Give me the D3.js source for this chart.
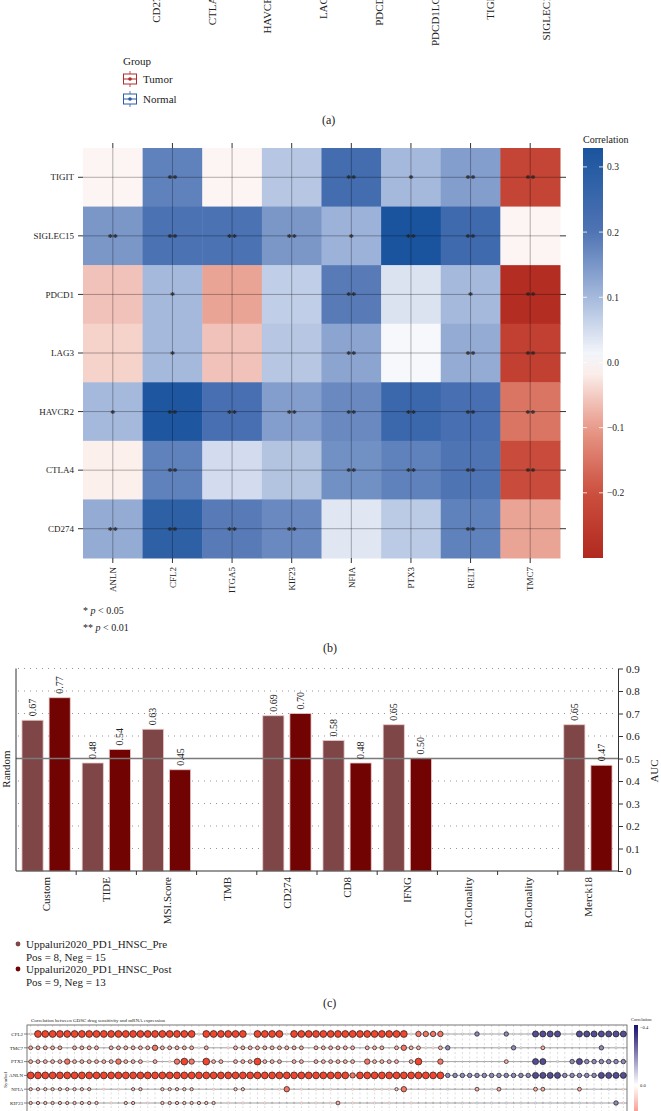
<!DOCTYPE html>
<html><head><meta charset="utf-8">
<script src="https://cdn.jsdelivr.net/npm/d3@7"></script>
<style>
body{margin:0;background:#fff}
svg{display:block}
text{font-family:"Liberation Serif","Times New Roman",serif;fill:#222}
</style>
</head><body>
<svg id="c" width="661" height="1111"></svg>
<script>
// ---------------- Panel (a) remnants ----------------
const aGenes = ["CD274","CTLA4","HAVCR2","LAG3","PDCD1","PDCD1LG2","TIGIT","SIGLEC15"];
const aGroups = ["Tumor","Normal"];
const aGroupColors = ["#b22a2a","#2b5ba8"];

// ---------------- Panel (b) heatmap ----------------
const hmRows = ["TIGIT","SIGLEC15","PDCD1","LAG3","HAVCR2","CTLA4","CD274"];
const hmCols = ["ANLN","CFL2","ITGA5","KIF23","NFIA","PTX3","RELT","TMC7"];
const hmTIGIT    = [-0.01, 0.18, -0.01, 0.08, 0.23, 0.10, 0.14, -0.23];
const hmSIGLEC15 = [ 0.15, 0.21,  0.21, 0.15, 0.11, 0.33, 0.24, -0.01];
const hmPDCD1    = [-0.06, 0.10, -0.09, 0.07, 0.19, 0.04, 0.10, -0.29];
const hmLAG3     = [-0.045,0.10, -0.06, 0.08, 0.13, 0.01, 0.12, -0.24];
const hmHAVCR2   = [ 0.10, 0.32,  0.22, 0.14, 0.17, 0.25, 0.22, -0.15];
const hmCTLA4    = [-0.015,0.18,  0.05, 0.085,0.16, 0.18, 0.20, -0.21];
const hmCD274    = [ 0.12, 0.28,  0.19, 0.17, 0.035,0.075,0.18, -0.09];
const hmValues = [hmTIGIT, hmSIGLEC15, hmPDCD1, hmLAG3, hmHAVCR2, hmCTLA4, hmCD274];
const sigTIGIT    = ["", "**", "", "", "**", "*", "**", "**"];
const sigSIGLEC15 = ["**","**","**","**","*","**","**",""];
const sigPDCD1    = ["", "*", "", "", "**", "", "*", "**"];
const sigLAG3     = ["", "*", "", "", "**", "", "**", "**"];
const sigHAVCR2   = ["*","**","**","**","**","**","**","**"];
const sigCTLA4    = ["", "**", "", "", "**", "**", "**", "**"];
const sigCD274    = ["**","**","**","**","", "", "**", ""];
const hmSig = [sigTIGIT, sigSIGLEC15, sigPDCD1, sigLAG3, sigHAVCR2, sigCTLA4, sigCD274];
const hmTicks = [-0.2,-0.1,0,0.1,0.2,0.3];

// ---------------- Panel (c) bars ----------------
const cCats = ["Custom","TIDE","MSI.Score","TMB","CD274","CD8","IFNG","T.Clonality","B.Clonality","Merck18"];
const cPre  = [0.67, 0.48, 0.63, null, 0.69, 0.58, 0.65, null, null, 0.65];
const cPost = [0.77, 0.54, 0.45, null, 0.70, 0.48, 0.50, null, null, 0.47];
const cSeries = ["Uppaluri2020_PD1_HNSC_Pre","Uppaluri2020_PD1_HNSC_Post"];
const cSeriesNote = ["Pos = 8, Neg = 15","Pos = 9, Neg = 13"];
const cColors = ["#7e4646","#720303"];
const aucTicks = [0,0.1,0.2,0.3,0.4,0.5,0.6,0.7,0.8,0.9];

// ---------------- Panel (d) dot plot ----------------
const dRows = ["CFL2","TMC7","PTX3","ANLN","NFIA","KIF23"];
const dCFL2 = [.07,.35,.35,.35,.35,.35,.35,.35,.35,.35,
 .35,.35,.35,.35,.35,.35,.35,.35,.35,.35,
 .35,.35,.35,.07,.35,.35,.35,.35,.35,.35,
 .07,.35,.35,.35,.35,.07,.35,.35,.35,.35,
 .35,.35,.35,.35,.35,.35,.35,.35,.35,.35,
 .35,.35,.07,.26,.26,.26,.26,-.07,-.07,-.07,
 -.07,-.2,-.07,-.07,-.07,-.2,-.07,-.07,-.07,-.3,
 -.3,-.3,-.3,-.07,-.07,-.3,-.3,-.3,-.3,-.3,
 -.3,-.3];
const dTMC7 = [.16,.16,.16,.16,.16,.01,.16,.16,.16,.16,
 .01,.16,.16,.16,.16,.16,.16,.26,.16,.16,
 .16,.16,.16,.07,.16,.01,.01,.07,.16,.16,
 .16,.16,.16,.16,.16,.16,.16,.16,.01,.16,
 .16,.16,.16,.16,.16,.01,.16,.16,.16,.01,
 .16,.26,.16,.16,.07,.07,.16,-.2,.01,.01,
 .01,.01,.01,.01,-.07,.01,-.2,-.07,.01,.01,
 .16,.01,.01,.01,.01,.01,.01,.01,-.2,.01,
 -.07,.01];
const dPTX3 = [.16,.16,.16,.16,.16,.26,.16,.16,.16,.16,
 .16,.16,.26,.16,.16,.16,.07,.16,.01,.07,
 .26,.35,.26,.01,.35,.16,.16,.01,.16,.16,
 .16,.35,.16,.16,.16,.01,.16,.16,.01,.16,
 .16,.16,.16,.16,.16,.01,.26,.16,.16,.16,
 .16,.01,.16,.35,.01,.01,.26,.01,.01,.01,
 .01,.01,.01,.01,.01,.16,.01,.01,.01,-.3,
 -.3,.01,-.07,.01,-.2,-.3,-.2,-.2,-.2,-.2,
 -.2,-.2];
const dANLN = [.35,.35,.35,.35,.35,.35,.35,.35,.35,.35,
 .35,.35,.35,.35,.35,.35,.35,.35,.35,.35,
 .35,.35,.35,.35,.35,.35,.35,.35,.35,.35,
 .35,.35,.35,.35,.35,.35,.35,.35,.35,.35,
 .35,.35,.35,.35,.26,.35,.35,.35,.35,.35,
 .35,.35,.35,.35,.35,.35,.35,-.2,-.2,-.2,
 -.2,-.2,-.2,-.2,-.2,-.2,-.2,-.2,-.2,-.3,
 -.3,-.3,-.3,-.2,-.2,-.2,-.2,-.2,-.3,-.3,
 -.3,-.3];
const dNFIA = [.12,.12,.12,.12,.12,.12,.12,.12,.12,.01,
 .07,.01,.07,.01,.12,.12,.01,.01,.12,.12,
 .12,.12,.12,.01,.01,.07,.01,.01,.12,.12,
 .01,.01,.07,.01,.07,.26,.01,.07,.01,.07,
 .01,.07,.01,.01,.07,.01,.01,.07,.07,.07,
 .12,.26,.01,.01,.07,.01,.01,-.07,.01,.01,
 .01,.16,.01,-.07,.16,.01,.01,.01,.01,.16,
 .16,.01,.01,.01,.01,.16,.01,-.07,.01,-.07,
 .01,.07];
const dKIF23 = [.12,.12,.12,.12,.12,.12,.12,.12,.12,.12,
 .01,.07,.01,.12,.12,.01,.07,.01,.12,.12,
 .12,.12,.12,.12,.12,.12,.01,.07,.01,.07,
 .01,.01,.07,.01,.01,.01,.01,.07,.01,.07,
 .01,.07,.16,.01,.07,.01,.01,.07,.01,.07,
 .01,.01,.07,.01,.01,.01,.01,-.07,.01,-.07,
 .01,-.07,.01,-.07,.01,-.07,.01,-.07,.01,-.07,
 .01,-.07,.01,-.07,.01,-.07,.01,-.07,-.07,.01,
 -.2,.07];
const dValues = [dCFL2, dTMC7, dPTX3, dANLN, dNFIA, dKIF23];
const dTicks = [-0.4, 0.0];

const svg = d3.select("#c");
const defs = svg.append("defs");

// ================= Panel (a) =================
const xa = d3.scalePoint(aGenes, [156, 546]);
svg.append("g").selectAll("text").data(aGenes).join("text")
  .attr("transform", d => `translate(${xa(d)+4},-9) rotate(-90)`)
  .attr("text-anchor","end").attr("font-size",11).text(d => d);
svg.append("text").attr("x",123).attr("y",65).attr("font-size",11).text("Group");
aGroups.forEach((g,i) => {
  const cy = 79 + 20*i, col = aGroupColors[i];
  const gg = svg.append("g");
  gg.append("line").attr("x1",130).attr("x2",130).attr("y1",cy-8).attr("y2",cy+8).attr("stroke",col).attr("stroke-width",0.8);
  gg.append("rect").attr("x",123.5).attr("y",cy-5).attr("width",13).attr("height",10).attr("fill","#fff").attr("stroke",col).attr("stroke-width",1);
  gg.append("line").attr("x1",123.5).attr("x2",136.5).attr("y1",cy).attr("y2",cy).attr("stroke",col).attr("stroke-width",1);
  gg.append("circle").attr("cx",130).attr("cy",cy).attr("r",1.8).attr("fill",col);
  svg.append("text").attr("x",143).attr("y",cy+3.5).attr("font-size",11).text(g);
});
svg.append("text").attr("x",322).attr("y",124).attr("font-size",12).text("(a)");

// ================= Panel (b) =================
const xb = d3.scaleBand(hmCols, [83, 560]);
const yb = d3.scaleBand(hmRows, [148, 558]);
const colB = d3.scaleLinear()
  .domain([-0.3,-0.2,-0.1,0,0.1,0.2,0.33])
  .range(["#b0291f","#cc4f3e","#e89a8a","#ffffff","#a5b9dc","#4f74b4","#1a549e"])
  .clamp(true);
const cells = [];
hmRows.forEach((r,i) => hmCols.forEach((c,j) => cells.push({r, c, v: hmValues[i][j], s: hmSig[i][j]})));
svg.append("g").selectAll("rect").data(cells).join("rect")
  .attr("x", d => xb(d.c)).attr("y", d => yb(d.r))
  .attr("width", xb.bandwidth()+0.5).attr("height", yb.bandwidth()+0.5)
  .attr("fill", d => colB(d.v));
// grid lines through centres
const gl = svg.append("g");
hmCols.forEach(c => {
  const x = xb(c) + xb.bandwidth()/2;
  gl.append("line").attr("x1",x).attr("x2",x).attr("y1",148).attr("y2",558).attr("stroke","#000").attr("stroke-opacity",0.3).attr("stroke-width",1);
  gl.append("line").attr("x1",x).attr("x2",x).attr("y1",143).attr("y2",148).attr("stroke","#333").attr("stroke-width",1);
  gl.append("line").attr("x1",x).attr("x2",x).attr("y1",558).attr("y2",563).attr("stroke","#333").attr("stroke-width",1);
});
hmRows.forEach(r => {
  const y = yb(r) + yb.bandwidth()/2;
  gl.append("line").attr("x1",83).attr("x2",560).attr("y1",y).attr("y2",y).attr("stroke","#000").attr("stroke-opacity",0.3).attr("stroke-width",1);
  gl.append("line").attr("x1",78).attr("x2",83).attr("y1",y).attr("y2",y).attr("stroke","#333").attr("stroke-width",1);
  gl.append("line").attr("x1",560).attr("x2",566).attr("y1",y).attr("y2",y).attr("stroke","#333").attr("stroke-width",1);
});
svg.append("g").selectAll("text").data(cells.filter(d => d.s)).join("text")
  .attr("x", d => xb(d.c) + xb.bandwidth()/2)
  .attr("y", d => yb(d.r) + yb.bandwidth()/2 + 5)
  .attr("text-anchor","middle").attr("font-size",10).attr("font-weight","bold").attr("fill","#222")
  .text(d => d.s);
// row labels
svg.append("g").selectAll("text").data(hmRows).join("text")
  .attr("x",74).attr("y", d => yb(d) + yb.bandwidth()/2 + 3.2)
  .attr("text-anchor","end").attr("font-size",9).text(d => d);
// col labels
svg.append("g").selectAll("text").data(hmCols).join("text")
  .attr("transform", d => `translate(${xb(d)+xb.bandwidth()/2+3.2},567) rotate(-90)`)
  .attr("text-anchor","end").attr("font-size",9).text(d => d);
// colorbar
const cbY = d3.scaleLinear([-0.3, 0.329], [558, 148]);
const gradB = defs.append("linearGradient").attr("id","gradB").attr("x1",0).attr("x2",0).attr("y1",1).attr("y2",0);
d3.range(0, 1.0001, 0.05).forEach(t => {
  const v = -0.3 + t*(0.629);
  gradB.append("stop").attr("offset", t).attr("stop-color", colB(v));
});
svg.append("rect").attr("x",583).attr("y",148).attr("width",20).attr("height",410).attr("fill","url(#gradB)");
hmTicks.forEach(t => {
  const y = cbY(t);
  svg.append("line").attr("x1",583).attr("x2",587).attr("y1",y).attr("y2",y).attr("stroke","#fff").attr("stroke-width",0.8);
  svg.append("line").attr("x1",599).attr("x2",603).attr("y1",y).attr("y2",y).attr("stroke","#fff").attr("stroke-width",0.8);
  svg.append("text").attr("x",607).attr("y",y+3.5).attr("font-size",9.5).text(d3.format(".1f")(t));
});
svg.append("text").attr("x",583).attr("y",143).attr("font-size",10).text("Correlation");
const fn = svg.append("g").attr("font-size",10);
fn.append("text").attr("x",83).attr("y",614).html('* <tspan font-style="italic">p</tspan> &lt; 0.05');
fn.append("text").attr("x",83).attr("y",631).html('** <tspan font-style="italic">p</tspan> &lt; 0.01');
svg.append("text").attr("x",323).attr("y",652).attr("font-size",12).text("(b)");

// ================= Panel (c) =================
const yc = d3.scaleLinear([0, 0.9], [871, 668.5]);
const xc = d3.scaleBand(cCats, [16, 618]);
const xs = d3.scaleBand([0,1], [0, xc.bandwidth()]).paddingInner(0.22).paddingOuter(0.22);
const gc = svg.append("g");
aucTicks.filter(t => t > 0 && t !== 0.5).forEach(t => {
  gc.append("line").attr("x1",18).attr("x2",614).attr("y1",yc(t)).attr("y2",yc(t))
    .attr("stroke","#888").attr("stroke-width",0.9).attr("stroke-dasharray","1,5");
});
const barData = [];
cCats.forEach((c,i) => [cPre[i], cPost[i]].forEach((v,k) => { if (v != null) barData.push({c, k, v}); }));
gc.selectAll("rect.bar").data(barData).join("rect")
  .attr("x", d => xc(d.c) + xs(d.k)).attr("width", xs.bandwidth())
  .attr("y", d => yc(d.v)).attr("height", d => yc(0) - yc(d.v))
  .attr("fill", d => cColors[d.k]).attr("stroke","#ecc9c9").attr("stroke-width",0.8);
gc.append("line").attr("x1",16).attr("x2",618).attr("y1",yc(0.5)).attr("y2",yc(0.5)).attr("stroke","#7a7a7a").attr("stroke-width",1.6);
gc.selectAll("text.val").data(barData).join("text")
  .attr("transform", d => `translate(${xc(d.c)+xs(d.k)+xs.bandwidth()/2+3.5},${yc(d.v)-4}) rotate(-90)`)
  .attr("font-size",10).text(d => d3.format(".2f")(d.v));
// axes
gc.append("line").attr("x1",16).attr("x2",16).attr("y1",668.5).attr("y2",871).attr("stroke","#333").attr("stroke-width",1);
gc.append("line").attr("x1",16).attr("x2",618).attr("y1",871).attr("y2",871).attr("stroke","#333").attr("stroke-width",1);
cCats.slice(1).forEach(c => {
  gc.append("line").attr("x1",xc(c)).attr("x2",xc(c)).attr("y1",871).attr("y2",875).attr("stroke","#333");
});
gc.selectAll("text.cat").data(cCats).join("text")
  .attr("transform", d => `translate(${xc(d)+xc.bandwidth()/2+4},877) rotate(-90)`)
  .attr("text-anchor","end").attr("font-size",11).text(d => d);
const ra = svg.append("g").attr("transform","translate(618,0)")
  .call(d3.axisRight(yc).tickValues(aucTicks).tickSize(5).tickSizeOuter(0)
    .tickFormat(d => d === 0 ? "0" : d3.format(".1f")(d)));
ra.selectAll("text").attr("font-size",11).attr("font-family","Liberation Serif").attr("fill","#222").attr("x",8);
ra.selectAll("line,path").attr("stroke","#333");
svg.append("text").attr("transform","translate(10,769) rotate(-90)").attr("text-anchor","middle").attr("font-size",11).text("Random");
svg.append("text").attr("transform","translate(658,771) rotate(-90)").attr("text-anchor","middle").attr("font-size",11).text("AUC");
cSeries.forEach((s,i) => {
  const y = 944 + 25*i;
  svg.append("circle").attr("cx",18).attr("cy",y).attr("r",2.4).attr("fill",cColors[i]);
  svg.append("text").attr("x",26).attr("y",y+4).attr("font-size",11).text(s);
  svg.append("text").attr("x",26).attr("y",y+17).attr("font-size",11).text(cSeriesNote[i]);
});
svg.append("text").attr("x",323).attr("y",1007).attr("font-size",12).text("(c)");

// ================= Panel (d) =================
const nCol = dCFL2.length;
const xd = d3.scaleBand(d3.range(nCol), [27, 627]);
const yd = d3.scalePoint(dRows, [1034, 1103]);
const colD = d3.scaleLinear([-0.4, 0, 0.4], ["#1b1270","#ffffff","#f02a10"]).clamp(true);
const rD = d3.scaleLinear([0, 0.35], [0.7, 3.4]).clamp(true);
const gd = svg.append("g");
svg.append("text").attr("x",31).attr("y",1022).attr("font-size",5).attr("fill","#333")
  .text("Correlation between GDSC drug sensitivity and mRNA expression");
d3.range(nCol).forEach(i => {
  const x = xd(i) + xd.bandwidth()/2;
  gd.append("line").attr("x1",x).attr("x2",x).attr("y1",1025).attr("y2",1111)
    .attr("stroke","#bbb").attr("stroke-width",0.5).attr("stroke-dasharray","2,2.5");
});
dRows.forEach(r => {
  gd.append("line").attr("x1",27).attr("x2",627).attr("y1",yd(r)).attr("y2",yd(r)).attr("stroke","#666").attr("stroke-width",0.6);
  gd.append("line").attr("x1",24).attr("x2",27).attr("y1",yd(r)).attr("y2",yd(r)).attr("stroke","#333").attr("stroke-width",0.6);
});
gd.append("rect").attr("x",27).attr("y",1025).attr("width",600).attr("height",120).attr("fill","none").attr("stroke","#555").attr("stroke-width",0.8);
const dots = [];
dRows.forEach((r,ri) => dValues[ri].forEach((v,ci) => dots.push({r, ci, v})));
gd.selectAll("circle").data(dots).join("circle")
  .attr("cx", d => xd(d.ci) + xd.bandwidth()/2).attr("cy", d => yd(d.r))
  .attr("r", d => rD(Math.abs(d.v)))
  .attr("fill", d => Math.abs(d.v) < 0.05 ? "#c4bcbc" : colD(d.v))
  .attr("stroke", d => Math.abs(d.v) >= 0.1 ? "#1a1a1a" : "#999")
  .attr("stroke-width", d => Math.abs(d.v) >= 0.1 ? 0.7 : 0.3);
gd.selectAll("text.rl").data(dRows).join("text")
  .attr("x",23).attr("y", d => yd(d) + 1.8).attr("text-anchor","end").attr("font-size",5).text(d => d);
svg.append("text").attr("transform","translate(7,1080) rotate(-90)").attr("text-anchor","middle").attr("font-size",5).text("Symbol");
// colorbar
const dY = d3.scaleLinear([-0.4, 0], [1027, 1085]);
const gradD = defs.append("linearGradient").attr("id","gradD").attr("x1",0).attr("x2",0).attr("y1",0).attr("y2",1);
d3.range(0, 1.0001, 0.1).forEach(t => gradD.append("stop").attr("offset",t).attr("stop-color", colD(-0.414 + t*0.828)));
svg.append("rect").attr("x",634).attr("y",1025).attr("width",4).attr("height",120).attr("fill","url(#gradD)");
dTicks.forEach(t => svg.append("text").attr("x",640).attr("y",dY(t)+1.5).attr("font-size",4.5).text(d3.format(".1f")(t)));
svg.append("text").attr("x",631).attr("y",1021).attr("font-size",4.5).text("Correlation");
</script>
</body></html>
